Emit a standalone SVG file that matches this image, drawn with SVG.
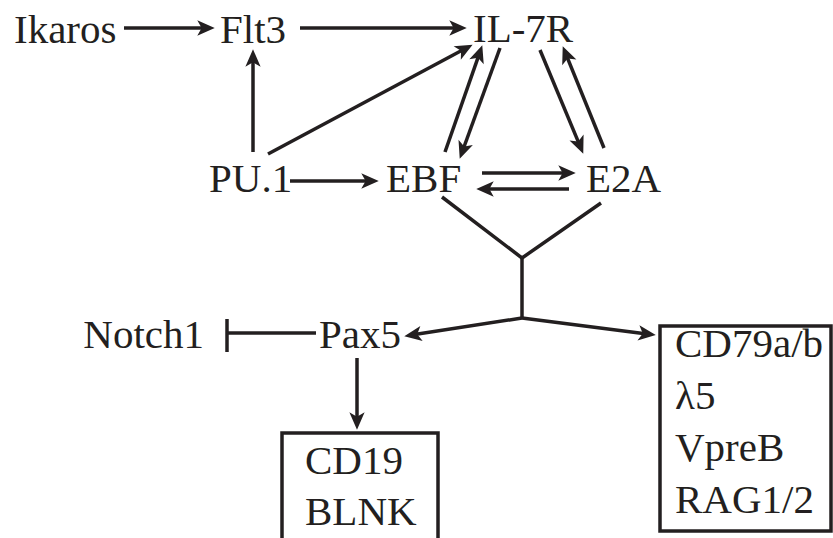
<svg xmlns="http://www.w3.org/2000/svg" width="833" height="538" viewBox="0 0 833 538">
<style>
text{font-family:"Liberation Serif","Times New Roman",serif;font-size:41px;fill:#231f20}
.c{stroke:#231f20;stroke-width:3.5;fill:none}
.a{marker-end:url(#ah)}
.box{fill:none;stroke:#231f20;stroke-width:3.5}
</style>
<defs>
<marker id="ah" markerUnits="userSpaceOnUse" markerWidth="24" markerHeight="20" refX="8" refY="0" viewBox="-2 -9 22 18" orient="auto" overflow="visible">
<path d="M0,-7 L16,0 L0,7 L4,0 Z" fill="#231f20"/>
</marker>
</defs>
<rect width="833" height="538" fill="#fff"/>
<g id="connectors">
<line class="c a" x1="124" y1="28" x2="206" y2="28"/>
<line class="c a" x1="300" y1="28" x2="458" y2="28"/>
<line class="c a" x1="253" y1="152" x2="253" y2="58"/>
<line class="c a" x1="268" y1="154" x2="464.9" y2="48.8"/>
<line class="c a" x1="290" y1="181" x2="370" y2="181"/>
<line class="c a" x1="445" y1="152" x2="479.4" y2="53.6"/>
<line class="c a" x1="500" y1="48" x2="462.7" y2="150.5"/>
<line class="c a" x1="540" y1="50" x2="579.9" y2="145.6"/>
<line class="c a" x1="604" y1="148" x2="566" y2="54.4"/>
<line class="c a" x1="482" y1="173" x2="567" y2="173"/>
<line class="c a" x1="569" y1="189" x2="485" y2="189"/>
<polyline class="c" points="442,197 522,258 601,203"/>
<line class="c" x1="522" y1="258" x2="522" y2="318"/>
<polyline class="c a" points="522,318 412.9,334.8"/>
<polyline class="c a" points="522,318 647.1,334"/>
<line class="c a" x1="357" y1="358" x2="357" y2="421"/>
<line class="c" x1="316" y1="333" x2="227" y2="333"/>
<line class="c" x1="227" y1="319" x2="227" y2="352"/>
</g>
<g id="ikaros"><text x="14" y="43">Ikaros</text></g>
<g id="flt3"><text x="220" y="43">Flt3</text></g>
<g id="il7r"><text x="473" y="42">IL-7R</text></g>
<g id="pu1"><text x="209" y="192">PU.1</text></g>
<g id="ebf"><text x="386" y="192">EBF</text></g>
<g id="e2a"><text x="586" y="192">E2A</text></g>
<g id="pax5"><text x="319" y="348">Pax5</text></g>
<g id="notch1"><text x="204" y="348" text-anchor="end">Notch1</text></g>
<g id="cd19box">
<rect class="box" x="282" y="433" width="156" height="120"/>
<text x="305" y="474">CD19</text>
<text x="305" y="525">BLNK</text>
</g>
<g id="cd79box">
<rect class="box" x="660" y="326" width="171" height="205"/>
<text x="675" y="357">CD79a/b</text>
<text x="675" y="409">λ5</text>
<text x="675" y="461">VpreB</text>
<text x="675" y="513">RAG1/2</text>
</g>
</svg>
